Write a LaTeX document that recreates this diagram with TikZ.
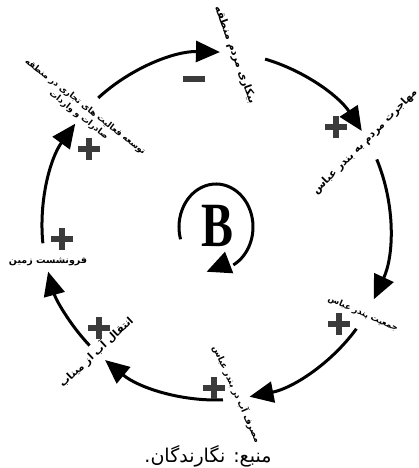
\documentclass[tikz,border=0pt]{standalone}
\usepackage{fontspec}
\newfontfamily\fa[Script=Arabic]{DejaVu Sans}
\newfontfamily\bfont{Liberation Serif}
\TeXXeTstate=1
\usetikzlibrary{arrows.meta}
\tikzset{
  loopline/.style={line width=3pt, black, -{Triangle[length=24pt,width=21pt]}},
  lbl/.style={font=\fa\bfseries\fontsize{10.5}{11}\selectfont, inner sep=0pt, align=center},
  plussign/.pic={\fill[black!77] (-11,-2.6) rectangle (11,2.6); \fill[black!77] (-2.6,-11) rectangle (2.6,11);},
  minussign/.pic={\fill[black!77] (-11,-3) rectangle (11,3);}
}
\begin{document}
\begin{tikzpicture}[x=1pt,y=1pt]
\useasboundingbox (0,0) rectangle (418,468);
\coordinate (C) at (216,242);
% arc end points
\coordinate (s1) at ([shift={(132.6:174)}]C);
\coordinate (s2) at ([shift={(73.6:174)}]C);
\coordinate (s3) at ([shift={(22.5:174)}]C);
\coordinate (s4) at ([shift={(-36.2:174)}]C);
\coordinate (s5) at ([shift={(-87.7:174)}]C);
\coordinate (s6) at ([shift={(-136.6:174)}]C);
\coordinate (s7) at ([shift={(185.7:174)}]C);
\draw[loopline] (s1) arc[start angle=132.6, end angle=88.7, radius=174];
\draw[loopline] (s2) arc[start angle=73.6, end angle=33.1, radius=174];
\draw[loopline] (s3) arc[start angle=22.5, end angle=-24.9, radius=174];
\draw[loopline] (s4) arc[start angle=-36.2, end angle=-78.9, radius=174];
\draw[loopline] (s5) arc[start angle=-87.7, end angle=-129.6, radius=174];
\draw[loopline] (s6) arc[start angle=-136.6, end angle=-164.8, radius=174];
\draw[loopline] (s7) arc[start angle=185.7, end angle=144, radius=174];
% labels
\node[lbl, rotate=-70] (n1) at (235,413) {\beginR بیکاری مردم منطقه\endR};
\node[lbl, rotate=45] (n2) at (365,326) {\beginR مهاجرت مردم به بندر عباس\endR};
\node[lbl, rotate=-24, font=\fa\bfseries\fontsize{8.5}{10}\selectfont] (n3) at (363,154) {\beginR جمعیت بندر عباس\endR};
\node[lbl, rotate=-66, font=\fa\bfseries\fontsize{8.8}{10}\selectfont] (n4) at (237,74) {\beginR مصرف آب در بندر عباس\endR};
\node[lbl, rotate=43] (n5) at (96,116) {\beginR انتقال آب از میناب\endR};
\node[lbl, font=\fa\bfseries\fontsize{9.5}{10}\selectfont] (n6) at (48,206) {\beginR فرونشست زمین\endR};
\node[lbl, rotate=-38, font=\fa\bfseries\fontsize{8.5}{10.5}\selectfont] (n7) at (82,357) {\beginR توسعه فعالیت های تجاری در منطقه\endR\\\beginR صادرات و واردات\endR};
% signs
\pic at (194,389) {minussign};
\pic at (336,341) {plussign};
\pic at (339,144) {plussign};
\pic at (214,80) {plussign};
\pic at (99,140) {plussign};
\pic at (62,229) {plussign};
\pic at (89,319) {plussign};
% B
\node[font=\bfont\bfseries\fontsize{63}{63}\selectfont, xscale=0.76, inner sep=0pt] (B) at (217,242) {B};
\coordinate (bs) at ([shift={(196.6:37 and 43)}]216,241);
\draw[line width=3pt] (bs) arc[start angle=196.6, end angle=-62, x radius=37, y radius=43];
\fill (206.7,196.3) -- (225,216.3) -- (233.3,194.7) -- cycle;
% source
\node[font=\fa\fontsize{19}{21}\selectfont, inner sep=0pt] (src) at (208,12) {\beginR منبع: نگارندگان.\endR};
\end{tikzpicture}
\end{document}
